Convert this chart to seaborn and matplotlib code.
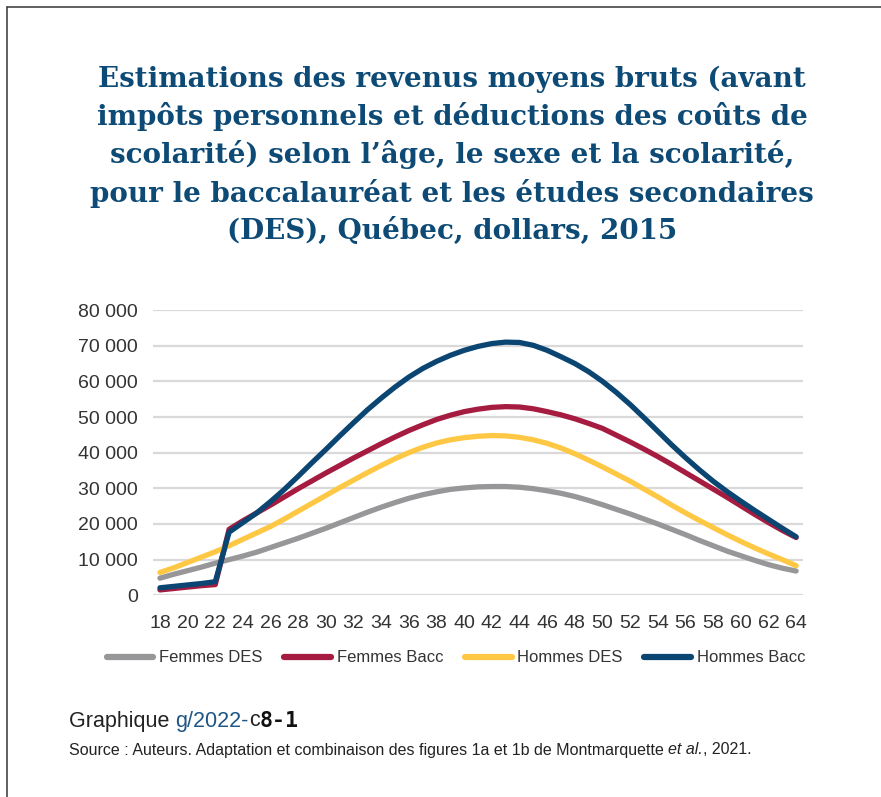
import numpy as np
import pandas as pd
import matplotlib
matplotlib.use("Agg")
import matplotlib.pyplot as plt
import seaborn as sns
from matplotlib.lines import Line2D

# Données (âge 18 à 64)
ages = list(range(18, 65))

femmes_des = [4800, 5900, 6900, 7900, 9000, 10000, 11000, 12100, 13400, 14700,
              16000, 17400, 18800, 20300, 21800, 23300, 24700, 26000, 27200, 28200,
              29000, 29700, 30100, 30400, 30500, 30500, 30300, 29900, 29300, 28600,
              27700, 26600, 25400, 24100, 22800, 21400, 20000, 18500, 17000, 15400,
              13900, 12400, 11100, 9800, 8600, 7600, 6800]

femmes_bacc = [1500, 1900, 2300, 2700, 3000, 18500, 20900, 23100, 25300, 27600,
               29900, 32100, 34300, 36400, 38500, 40500, 42500, 44400, 46200, 47800,
               49300, 50500, 51500, 52200, 52700, 52900, 52800, 52300, 51500, 50600,
               49500, 48200, 46800, 44900, 43000, 41000, 38900, 36700, 34400, 32100,
               29800, 27500, 25100, 22700, 20400, 18200, 16200]

hommes_des = [6400, 7700, 9200, 10700, 12200, 13900, 15700, 17500, 19300, 21400,
              23600, 25800, 28000, 30200, 32300, 34400, 36400, 38300, 40000, 41500,
              42700, 43600, 44200, 44600, 44800, 44700, 44300, 43600, 42600, 41300,
              39700, 37900, 36000, 34000, 32000, 29800, 27600, 25300, 23100, 21000,
              19000, 17000, 15100, 13300, 11600, 10000, 8300]

hommes_bacc = [2100, 2500, 2900, 3300, 3800, 17700, 20400, 23100, 26300, 29700,
               33400, 37200, 40900, 44700, 48400, 52000, 55300, 58400, 61200, 63600,
               65600, 67300, 68700, 69800, 70600, 71000, 70900, 70100, 68700, 66900,
               65000, 62700, 60000, 56900, 53500, 49800, 46000, 42200, 38600, 35200,
               32000, 29100, 26400, 23800, 21300, 18800, 16400]

series = ["Femmes DES", "Femmes Bacc", "Hommes DES", "Hommes Bacc"]
couleurs = ["#97979a", "#a51c40", "#fec845", "#0b4572"]
y_ticks = [0, 10000, 20000, 30000, 40000, 50000, 60000, 70000, 80000]
x_ticks = list(range(18, 65, 2))

df = pd.DataFrame({
    "age": ages * 4,
    "revenu": femmes_des + femmes_bacc + hommes_des + hommes_bacc,
    "groupe": sum([[s] * len(ages) for s in series], []),
})

sns.set_style("white")
plt.rcParams["font.family"] = ["Liberation Sans", "DejaVu Sans"]

fig = plt.figure(figsize=(8.81, 7.97), dpi=100)
ax = fig.add_axes([0.1737, 0.2531, 0.7378, 0.3579])

sns.lineplot(data=df, x="age", y="revenu", hue="groupe", hue_order=series,
             palette=couleurs, linewidth=3.8, legend=False, ax=ax,
             solid_capstyle="round", solid_joinstyle="round")

ax.set_xlim(17.5, 64.5)
ax.set_ylim(0, 80000)
ax.set_yticks(y_ticks)
ax.set_yticklabels([f"{v:,}".replace(",", " ") for v in y_ticks])
ax.set_xticks(x_ticks)
ax.set_xticklabels([str(a) for a in x_ticks])
ax.tick_params(axis="y", labelsize=14, colors="#333333", length=0, pad=11)
ax.tick_params(axis="x", labelsize=14, colors="#333333", length=0, pad=14)
ax.yaxis.grid(True, color="#d9d9d9", linewidth=1.6)
ax.set_axisbelow(True)
for s in ax.spines.values():
    s.set_visible(False)
ax.set_xlabel("")
ax.set_ylabel("")

# Légende
poignees = [Line2D([0], [0], color=c, lw=4.5, solid_capstyle="round") for c in couleurs]
fig.legend(poignees, series, loc="center", bbox_to_anchor=(0.5176, 1 - 658 / 797),
           ncol=4, frameon=False, fontsize=12, handlelength=2.8, handletextpad=0.35,
           columnspacing=1.3, labelcolor="#333333")

# Titre
titre = ("Estimations des revenus moyens bruts (avant\n"
         "impôts personnels et déductions des coûts de\n"
         "scolarité) selon l’âge, le sexe et la scolarité,\n"
         "pour le baccalauréat et les études secondaires\n"
         "(DES), Québec, dollars, 2015")
fig.text(0.513, 1 - 155 / 797, titre, ha="center", va="center", fontsize=20,
         fontweight="bold", family="DejaVu Serif", color="#0d4a75", linespacing=1.41)

# Pied de figure
renderer = fig.canvas.get_renderer()
y_graph = 1 - 721 / 797
x = 69 / 881
morceaux = [("Graphique ", "#222222", "normal", "Liberation Sans"),
            ("g/2022-", "#1f5685", "normal", "Liberation Sans"),
            ("c", "#222222", "normal", "Liberation Sans"),
            ("8-1", "#111111", "bold", "DejaVu Sans Mono")]
for txt, col, fw, fam in morceaux:
    t = fig.text(x, y_graph, txt, ha="left", va="center", fontsize=15.5,
                 color=col, fontweight=fw, family=fam)
    bb = t.get_window_extent(renderer=renderer)
    x += bb.width / fig.bbox.width

y_src = 1 - 750 / 797
x = 69 / 881
for txt, style in [("Source : Auteurs. Adaptation et combinaison des figures 1a et 1b de Montmarquette ", "normal"),
                   ("et al.", "italic"), (", 2021.", "normal")]:
    t = fig.text(x, y_src, txt, ha="left", va="center", fontsize=11.5,
                 color="#222222", style=style)
    bb = t.get_window_extent(renderer=renderer)
    x += bb.width / fig.bbox.width

# Cadre (haut et gauche)
fig.add_artist(Line2D([7 / 881, 1], [1 - 7 / 797, 1 - 7 / 797], color="#444444", lw=1.2))
fig.add_artist(Line2D([7 / 881, 7 / 881], [0, 1 - 7 / 797], color="#444444", lw=1.2))

fig.savefig("out.png", dpi=100, facecolor="white")
